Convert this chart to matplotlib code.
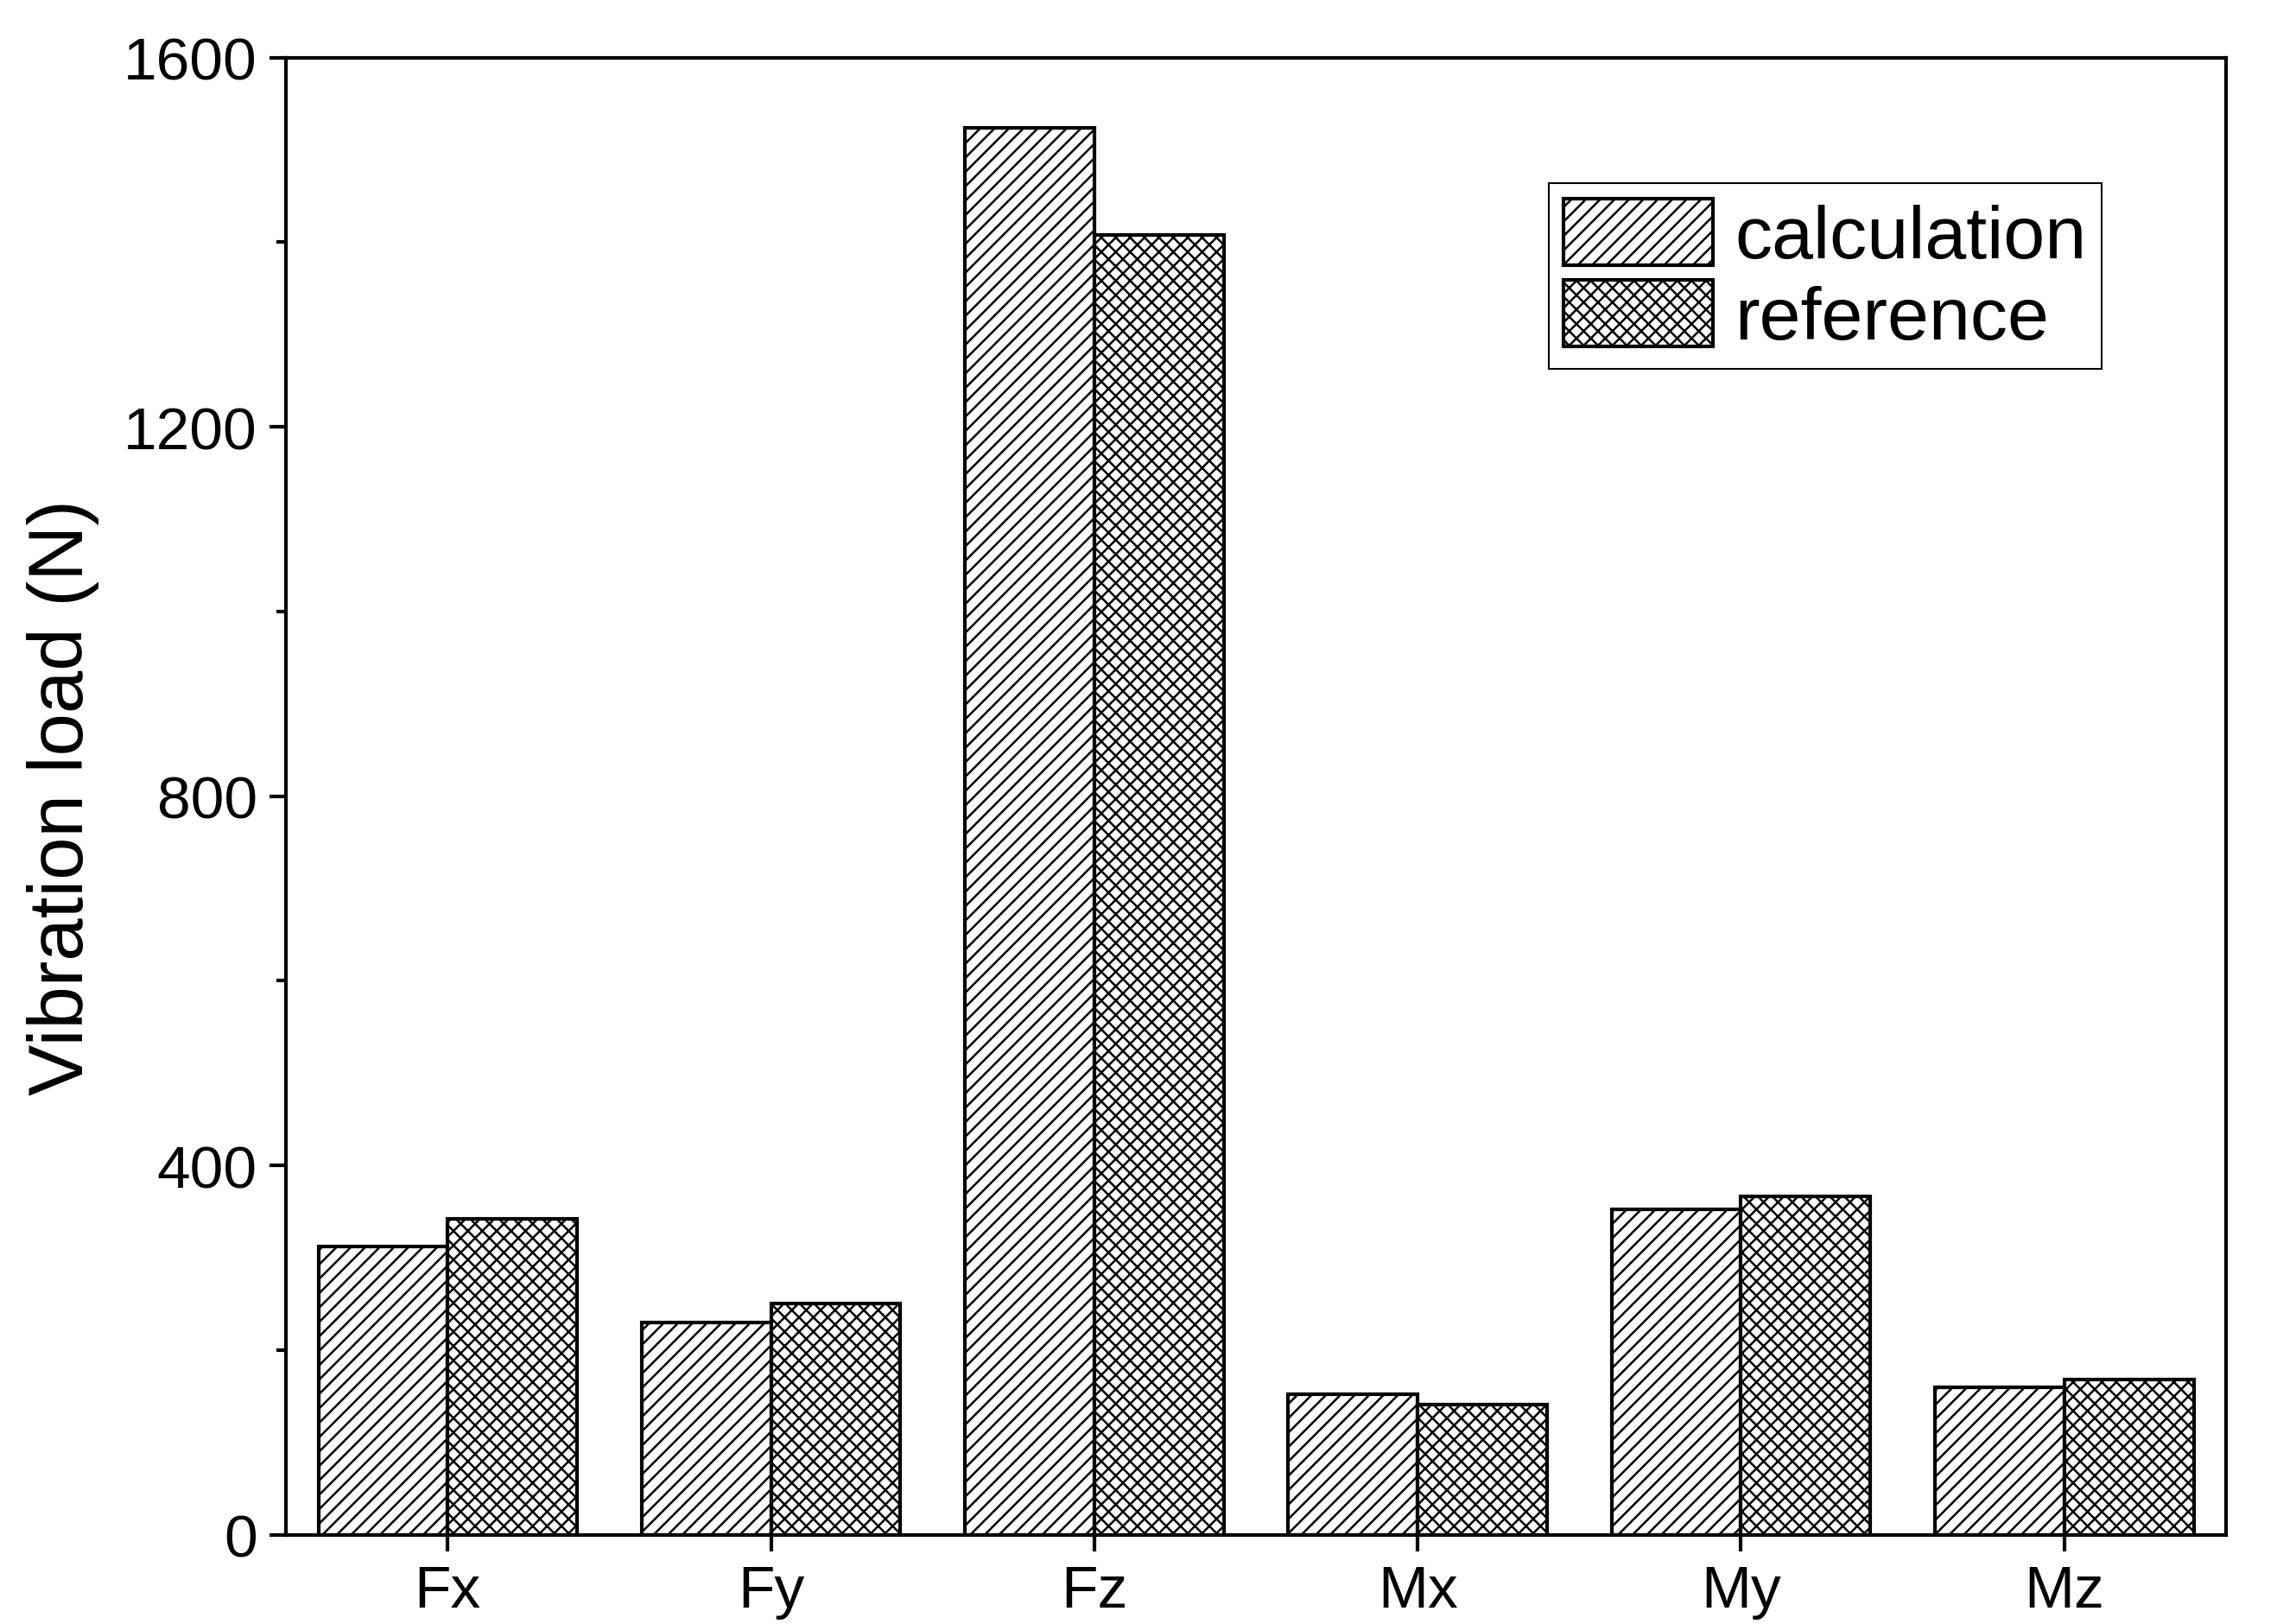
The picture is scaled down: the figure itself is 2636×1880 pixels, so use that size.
import matplotlib
matplotlib.use("Agg")
import matplotlib.pyplot as plt
import numpy as np

categories = ["Fx", "Fy", "Fz", "Mx", "My", "Mz"]
calculation = [312, 230, 1524, 152, 352, 160]
reference = [342, 250, 1408, 141, 366, 168]

plt.rcParams['font.family'] = ['Liberation Sans', 'DejaVu Sans']
plt.rcParams['hatch.linewidth'] = 1.8

fig = plt.figure(figsize=(26.36, 18.81), dpi=100)
ax = fig.add_axes([0.1256, 0.055, 0.852, 0.909])

x = np.arange(len(categories))
w = 0.40
ax.bar(x - w / 2, calculation, w, facecolor='white', edgecolor='black',
       linewidth=3, hatch='//', label='calculation')
ax.bar(x + w / 2, reference, w, facecolor='white', edgecolor='black',
       linewidth=3, hatch='xx', label='reference')

ax.set_xlim(-0.5, 5.5)
ax.set_ylim(0, 1600)
ax.set_xticks(x)
ax.set_xticklabels(categories)
ax.set_yticks([0, 400, 800, 1200, 1600])
ax.set_yticks(np.arange(200, 1600, 400), minor=True)
ax.tick_params(axis='both', which='major', labelsize=50, width=3, length=14,
               direction='out', pad=10)
ax.tick_params(axis='y', which='minor', width=3, length=8, direction='out')
for s in ax.spines.values():
    s.set_linewidth(3)
ax.set_ylabel('Vibration load (N)', fontsize=64, labelpad=20)

leg = ax.legend(loc='upper right', bbox_to_anchor=(0.955, 0.94), fontsize=62,
                fancybox=False, edgecolor='black', handlelength=2.0, handleheight=1.0,
                borderpad=0.2, labelspacing=0.1, handletextpad=0.3, framealpha=1)
leg.get_frame().set_linewidth(1.5)

fig.savefig("out.png", dpi=100)
